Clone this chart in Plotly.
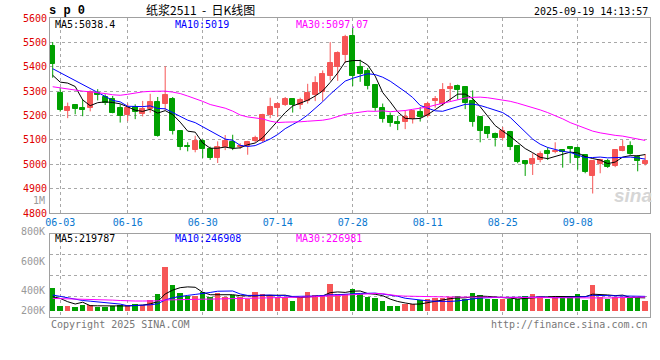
import numpy as np
import pandas as pd
import plotly.graph_objects as go

# ---------------- data ----------------
dates = ["05-30",
         "06-03", "06-04", "06-05", "06-06", "06-09", "06-10", "06-11", "06-12", "06-13",
         "06-16", "06-17", "06-18", "06-19", "06-20", "06-23", "06-24", "06-25", "06-26", "06-27",
         "06-30", "07-01", "07-02", "07-03", "07-04", "07-07", "07-08", "07-09", "07-10", "07-11",
         "07-14", "07-15", "07-16", "07-17", "07-18", "07-21", "07-22", "07-23", "07-24", "07-25",
         "07-28", "07-29", "07-30", "07-31", "08-01", "08-04", "08-05", "08-06", "08-07", "08-08",
         "08-11", "08-12", "08-13", "08-14", "08-15", "08-18", "08-19", "08-20", "08-21", "08-22",
         "08-25", "08-26", "08-27", "08-28", "08-29", "09-01", "09-02", "09-03", "09-04", "09-05",
         "09-08", "09-09", "09-10", "09-11", "09-12", "09-15", "09-16", "09-17", "09-18", "09-19"]

opens = [5486, 5293, 5217, 5243, 5230, 5230, 5293, 5277, 5266, 5232,
         5201, 5235, 5208, 5226, 5257, 5249, 5266, 5137, 5074, 5058,
         5094, 5063, 5026, 5069, 5090, 5069, 5076, 5094, 5094, 5202,
         5230, 5243, 5266, 5243, 5259, 5284, 5298, 5361, 5400, 5450,
         5527, 5400, 5382, 5325, 5232, 5196, 5175, 5174, 5185, 5215,
         5196, 5259, 5246, 5307, 5322, 5318, 5260, 5192, 5151, 5126,
         5107, 5134, 5076, 5012, 5001, 5018, 5053, 5049, 5060, 5069,
         5065, 5039, 4952, 4999, 5012, 4992, 5053, 5073, 5031, 5001]
highs = [5501, 5314, 5253, 5243, 5266, 5303, 5308, 5287, 5280, 5246,
         5249, 5246, 5260, 5289, 5276, 5402, 5276, 5137, 5090, 5117,
         5103, 5072, 5094, 5120, 5121, 5086, 5096, 5117, 5207, 5273,
         5253, 5276, 5266, 5273, 5330, 5361, 5385, 5501, 5463, 5531,
         5561, 5429, 5395, 5325, 5249, 5212, 5198, 5221, 5221, 5235,
         5257, 5280, 5333, 5334, 5327, 5318, 5303, 5192, 5151, 5130,
         5153, 5137, 5076, 5012, 5045, 5053, 5069, 5090, 5060, 5072,
         5072, 5042, 5012, 5022, 5022, 5058, 5099, 5094, 5038, 5042]
lows = [5355, 5216, 5189, 5205, 5197, 5217, 5262, 5243, 5209, 5171,
        5177, 5185, 5196, 5212, 5113, 5221, 5122, 5058, 5053, 5049,
        5026, 5018, 5005, 5058, 5058, 5063, 5039, 5090, 5090, 5189,
        5194, 5239, 5212, 5226, 5249, 5259, 5259, 5344, 5342, 5416,
        5321, 5338, 5307, 5219, 5171, 5154, 5140, 5144, 5167, 5175,
        5192, 5232, 5239, 5259, 5266, 5226, 5154, 5090, 5107, 5073,
        5099, 5058, 5004, 4952, 4956, 5008, 5018, 5045, 4986, 5004,
        4978, 4963, 4880, 4963, 4985, 4988, 5053, 5039, 4971, 4995]
closes = [5413, 5221, 5236, 5226, 5223, 5295, 5283, 5253, 5212, 5197,
          5232, 5215, 5228, 5257, 5117, 5283, 5135, 5072, 5072, 5096,
          5063, 5026, 5072, 5096, 5067, 5076, 5090, 5107, 5204, 5236,
          5246, 5266, 5243, 5264, 5293, 5334, 5371, 5416, 5457, 5522,
          5361, 5372, 5323, 5230, 5185, 5171, 5164, 5192, 5219, 5194,
          5249, 5266, 5303, 5317, 5303, 5250, 5175, 5135, 5126, 5107,
          5137, 5069, 5008, 5001, 5022, 5042, 5042, 5053, 5049, 5063,
          5026, 4967, 5012, 5018, 4990, 5058, 5069, 5042, 5015, 5015]
volumes = [391000, 80000, 80000, 68000, 102000, 97000, 68000, 68000, 80000, 90000,
           97000, 114000, 97000, 182000, 284000, 748000, 437000, 306000, 250000, 250000,
           323000, 226000, 306000, 238000, 267000, 238000, 192000, 318000, 284000, 267000,
           226000, 226000, 170000, 226000, 323000, 267000, 267000, 454000, 284000, 284000,
           369000, 284000, 238000, 221000, 165000, 80000, 80000, 114000, 114000, 182000,
           199000, 209000, 209000, 226000, 250000, 199000, 301000, 267000, 199000, 199000,
           199000, 199000, 199000, 250000, 284000, 250000, 199000, 226000, 250000, 250000,
           284000, 182000, 437000, 238000, 199000, 226000, 226000, 238000, 238000, 165000]

# moving-average values before enough in-window history exists
ma5_head = [5365, 5337, 5333, 5319]
ma10_head = [5392, 5376, 5359, 5343, 5327, 5311, 5294, 5278, 5262]
ma30_head = [5318, 5313, 5309, 5303, 5300, 5297, 5295, 5290, 5285, 5283,
             5287, 5293, 5297, 5299, 5300, 5300, 5296, 5290, 5280, 5270,
             5258, 5245, 5237, 5230, 5218, 5202, 5194, 5189, 5186]
vma5_head = [238000, 209000, 153000, 114000]
vma10_head = [267000, 243000, 219000, 196000, 173000, 162000, 148000, 134000, 122000]
vma30_head = [209000, 207000, 204000, 201000, 197000, 194000, 192000, 187000, 180000, 173000,
              165000, 165000, 165000, 165000, 167000, 182000, 187000, 190000, 192000, 194000,
              196000, 197000, 199000, 201000, 202000, 204000, 206000, 209000, 213000]

tick_dates = ["06-03", "06-16", "06-30", "07-14", "07-28", "08-11", "08-25", "09-08"]
price_ticks = [4800, 4900, 5000, 5100, 5200, 5300, 5400, 5500, 5600]
vol_tick_labels = ["1M", "800K", "600K", "400K", "200K"]

title_text = "纸浆2511\u00a0\u00a0-\u00a0\u00a0日K线图"
symbol_text = "s p 0"
time_text = "2025-09-19 14:13:57"
legend_main = ["MA5:5038.4", "MA10:5019", "MA30:5097.07"]
legend_vol = ["MA5:219787", "MA10:246908", "MA30:226981"]
copyright_text = "Copyright 2025 SINA.COM"
url_text = "http://finance.sina.com.cn"

# ---------------- helpers ----------------
RED = "#f65656"
GREEN = "#00a000"
MA_COLORS = ["#000000", "#0000ff", "#ff00ff"]
MONO = "DejaVu Sans Mono"


def moving(series, n, head):
    s = pd.Series(series, dtype=float).rolling(n).mean().to_numpy()
    s[:n - 1] = head
    return s


n = len(dates)
x = np.arange(n)
o = np.array(opens, float)
h = np.array(highs, float)
l = np.array(lows, float)
c = np.array(closes, float)
v = np.array(volumes, float)
up = c >= o
dn = ~up

fig = go.Figure()

# wicks
for mask, col in ((up, RED), (dn, GREEN)):
    wx, wy = [], []
    for i in x[mask]:
        wx += [i, i, None]
        wy += [l[i], h[i], None]
    fig.add_trace(go.Scatter(x=wx, y=wy, mode="lines", line=dict(color=col, width=1),
                             hoverinfo="skip", showlegend=False, xaxis="x", yaxis="y"))

# bodies
for mask, col in ((up, RED), (dn, GREEN)):
    fig.add_trace(go.Bar(x=x[mask], base=np.minimum(o, c)[mask], y=np.abs(c - o)[mask],
                         width=0.62, marker=dict(color=col, line=dict(color=col, width=1)),
                         showlegend=False, xaxis="x", yaxis="y"))

# price MAs
for (nn, head), col in zip(((5, ma5_head), (10, ma10_head), (30, ma30_head)), MA_COLORS):
    fig.add_trace(go.Scatter(x=x, y=moving(closes, nn, head), mode="lines",
                             line=dict(color=col, width=1), showlegend=False,
                             xaxis="x", yaxis="y"))

# volume bars
for mask, col in ((up, RED), (dn, GREEN)):
    fig.add_trace(go.Bar(x=x[mask], y=v[mask], width=0.74,
                         marker=dict(color=col, line=dict(width=0)),
                         showlegend=False, xaxis="x2", yaxis="y2"))

# volume MAs
for (nn, head), col in zip(((5, vma5_head), (10, vma10_head), (30, vma30_head)), MA_COLORS):
    fig.add_trace(go.Scatter(x=x, y=moving(volumes, nn, head), mode="lines",
                             line=dict(color=col, width=1), showlegend=False,
                             xaxis="x2", yaxis="y2"))

# ---------------- layout ----------------
L, R, T, B = 50, 10, 18, 43
W, H = 660, 360
PW, PH = W - L - R, H - T - B


def pxx(px):
    return (px - L) / PW


def pxy(py):
    return (H - B - py) / PH


tickpos = [dates.index(d) for d in tick_dates]
xrange_ = [-0.36, n - 0.36]
vol_range = [-107000, 1304000]
vol_grid = [vol_range[0] + (vol_range[1] - vol_range[0]) * k / 4 for k in (1, 2, 3)]

grid = dict(showgrid=True, gridcolor="#a8a8a8", griddash="dot", gridwidth=1,
            zeroline=False, showline=True, mirror=True, linecolor="#a0a0a0", linewidth=1)

fig.update_layout(
    width=W, height=H, margin=dict(l=L, r=R, t=T, b=B),
    paper_bgcolor="white", plot_bgcolor="white",
    barmode="overlay", bargap=0, showlegend=False,
    xaxis=dict(domain=[0, 1], range=xrange_, anchor="y", tickmode="array",
               tickvals=tickpos, ticktext=tick_dates, ticks="",
               tickfont=dict(family=MONO, size=10, color="#0a78d0"), **grid),
    yaxis=dict(domain=[pxy(213), 1], range=[4800, 5600], tickmode="array",
               tickvals=price_ticks, ticks="",
               tickfont=dict(family=MONO, size=10, color="#e00000"), **grid),
    xaxis2=dict(domain=[0, 1], range=xrange_, anchor="y2", matches="x", tickmode="array",
                tickvals=tickpos, showticklabels=False, ticks="", **grid),
    yaxis2=dict(domain=[0, pxy(234)], range=vol_range, tickmode="array",
                tickvals=vol_grid, showticklabels=False, ticks="", **grid),
)

ann = []


def text(t, px, py, anchor="left", color="#000", size=10, family=MONO, bold=False, italic=False):
    if bold:
        t = "<b>" + t + "</b>"
    if italic:
        t = "<i>" + t + "</i>"
    ann.append(dict(text=t, x=pxx(px), y=pxy(py), xref="paper", yref="paper",
                    xanchor=anchor, yanchor="middle", showarrow=False,
                    font=dict(family=family, size=size, color=color)))


text(symbol_text, 47, 11, size=12, bold=True, family="Liberation Mono")
text(title_text, 200, 9.5, anchor="center", size=12, family="Noto Sans CJK SC")
text(time_text, 650, 11.5, anchor="right", size=10)

for t, px, col in zip(legend_main, (53, 173, 294), MA_COLORS):
    text(t, px, 24.5, color=col)
for t, px, col in zip(legend_vol, (53, 173, 294), MA_COLORS):
    text(t, px, 238.5, color=col)

for t, py in zip(vol_tick_labels, (200, 231, 261, 290, 310)):
    text(t, 47, py, anchor="right", color="#999999")

text(copyright_text, 49, 324, color="#777777")
text(url_text, 650, 324, anchor="right", color="#777777")
text("sina", 633, 195, anchor="center", color="#d6d6d6", size=19,
     family="Liberation Sans", bold=True, italic=True)

fig.update_layout(annotations=ann)

fig.write_html("out.html")
